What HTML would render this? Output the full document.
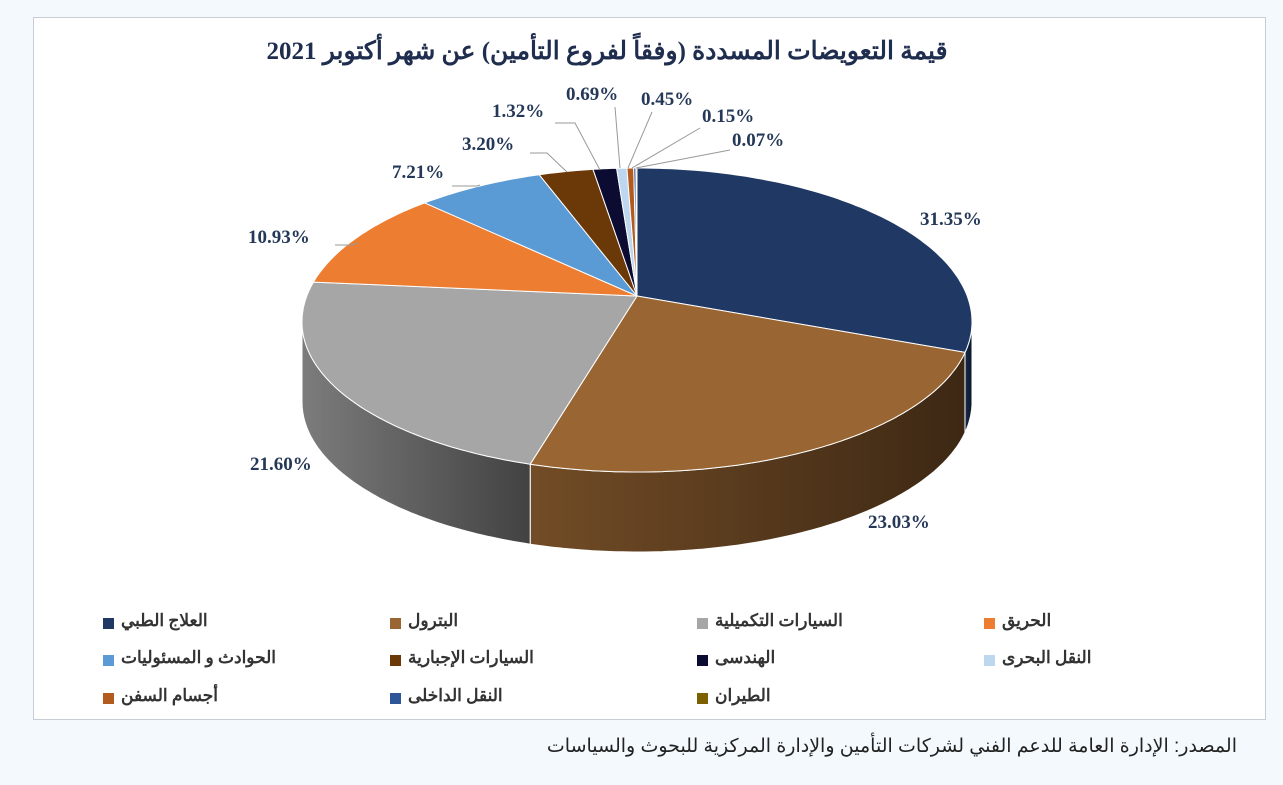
<!DOCTYPE html>
<html><head><meta charset="utf-8"><style>
body{margin:0;width:1283px;height:785px;background:#f3f9fd;position:relative;overflow:hidden;font-family:"Liberation Serif","Noto Serif CJK SC",serif}
#box{position:absolute;left:33px;top:17px;width:1231px;height:701px;background:#fff;border:1px solid #c8ccd4}
.t{position:absolute;white-space:nowrap}
.lg{position:absolute;font-size:17px;font-weight:bold;color:#333;direction:rtl;white-space:nowrap}
.sq{position:absolute;width:11px;height:11px}
</style></head><body>
<div id="box"></div>
<div class="t" style="left:0;width:1214px;top:36px;text-align:center;font-size:25px;font-weight:bold;color:#1f2d4e;direction:rtl">قيمة التعويضات المسددة (وفقاً لفروع التأمين) عن شهر أكتوبر 2021</div>
<svg id="s" width="1283" height="785" style="position:absolute;left:0;top:0"></svg>
<div class="t" style="right:46px;top:735px;font-size:19px;color:#222;direction:rtl;font-family:'Liberation Sans','DejaVu Sans',sans-serif">المصدر: الإدارة العامة للدعم الفني لشركات التأمين والإدارة المركزية للبحوث والسياسات</div>
<script>
const cx=637,cy=322,rx=335,ryT=154,ryB=150,d=80,ax=637,ay=296;
const data=[[31.35,'#203864'],[23.03,'#996633'],[21.60,'#a6a6a6'],[10.93,'#ed7d31'],[7.21,'#5b9bd5'],[3.20,'#6b3808'],[1.32,'#0c0c33'],[0.69,'#bdd7ee'],[0.45,'#b35a1f'],[0.15,'#2e5597'],[0.07,'#7f6000']];
const M=[[0,0],[112.86,101.7],[195.77,198.6],[273.5,285],[312.9,320.7],[338.8,343],[350.4,352.5],[355.1,356.5],[360,360]];
function warp(a){for(let i=1;i<M.length;i++){if(a<=M[i][0]+1e-9){const [x0,y0]=M[i-1],[x1,y1]=M[i];return y0+(a-x0)*(y1-y0)/(x1-x0);}}return 360;}
const s=document.getElementById('s');let h='';
function P(a,dy=0){const r=a*Math.PI/180;const c=Math.cos(r);return [cx+rx*Math.sin(r),cy-(c>0?ryT:ryB)*c+dy];}
function arc(a1,a2,dy){let pts=[];let n=Math.max(2,Math.ceil((a2-a1)/1));for(let i=0;i<=n;i++){pts.push(P(a1+(a2-a1)*i/n,dy).map(v=>v.toFixed(1)).join(' '));}return pts;}
function dark(c,f){let n=parseInt(c.slice(1),16);let r=(n>>16)*f|0,g=((n>>8)&255)*f|0,b=(n&255)*f|0;return `rgb(${r},${g},${b})`;}
let a=0,segs=[];
data.forEach(([v,c])=>{let b=a+v*3.6;segs.push([warp(a),warp(b),c]);a=b;});
let defs='<defs>';
segs.forEach(([a1,a2,c],i)=>{defs+=`<linearGradient id="g${i}" x1="0" x2="1"><stop offset="0" stop-color="${dark(c,0.75)}"/><stop offset="1" stop-color="${dark(c,0.4)}"/></linearGradient>`;
let s1=Math.max(a1,90),s2=Math.min(a2,270);
if(s2>s1){let top=arc(s1,s2,0),bot=arc(s1,s2,d).reverse();
h+=`<path d="M${top.join(' L')} L${bot.join(' L')}Z" fill="url(#g${i})" stroke="#fff" stroke-width="1"/>`;}});
defs+='</defs>';
segs.forEach(([a1,a2,c])=>{let pts=arc(a1,a2,0);
h+=`<path d="M${ax} ${ay} L${pts.join(' L')}Z" fill="${c}" stroke="#fff" stroke-width="1"/>`;});
const labels=[['31.35%',920,225],['23.03%',868,528],['21.60%',250,470],['10.93%',248,243],['7.21%',392,178],['3.20%',462,150],['1.32%',492,117],['0.69%',566,100],['0.45%',641,105],['0.15%',702,122],['0.07%',732,146]];
labels.forEach(([t,x,y])=>{h+=`<text x="${x}" y="${y}" font-size="19" font-weight="bold" fill="#253858" font-family="Liberation Serif,serif">${t}</text>`;});
const lines=[[452,186,477,186,480,185],[530,153,547,153,567,172],[555,123,575,123,600,170],[615,107,620,168,620,168],[652,112,628,168,628,168],[700,128,632,168,632,168],[730,150,636,168,636,168],[335,245,352,245,358,243]];
lines.forEach(l=>{h+=`<polyline points="${l.join(' ')}" fill="none" stroke="#999" stroke-width="1"/>`;});
s.innerHTML=defs+h;
const lg=[['العلاج الطبي','#203864',103,624],['البترول','#996633',390,624],['السيارات التكميلية','#a6a6a6',697,624],['الحريق','#ed7d31',984,624],
['الحوادث و المسئوليات','#5b9bd5',103,661],['السيارات الإجبارية','#6b3808',390,661],['الهندسى','#0c0c33',697,661],['النقل البحرى','#bdd7ee',984,661],
['أجسام السفن','#b35a1f',103,699],['النقل الداخلى','#2e5597',390,699],['الطيران','#7f6000',697,699]];
let out='';
lg.forEach(([t,c,x,y])=>{out+=`<div class="sq" style="left:${x}px;top:${y-6}px;background:${c}"></div><div class="lg" style="left:${x+18}px;top:${y-13}px">${t}</div>`;});
document.body.insertAdjacentHTML('beforeend',out);
</script>
</body></html>
